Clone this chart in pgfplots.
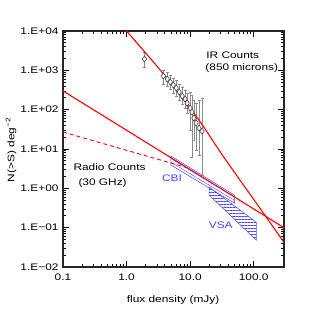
\documentclass[border=0pt]{standalone}
\usepackage{fontspec}
\setmainfont[FakeStretch=1.25]{Liberation Sans}
\usepackage{pgfplots}
\pgfplotsset{compat=1.18}
\usetikzlibrary{patterns.meta}
\definecolor{cbiblue}{RGB}{70,70,255}
\definecolor{irred}{RGB}{255,0,0}
\begin{document}
\begin{tikzpicture}[font=\fontsize{9.5}{11}\selectfont]
\begin{axis}[
  scale only axis, width=221pt, height=236pt,
  xmode=log, ymode=log,
  xmin=0.1, xmax=300, ymin=0.01, ymax=1e4,
  xtick={0.1,1,10,100}, xticklabels={0.1,1.0,10.0,100.0},
  ytick={1e-2,1e-1,1,1e1,1e2,1e3,1e4},
  yticklabels={1.E−02,1.E−01,1.E+00,1.E+01,1.E+02,1.E+03,1.E+04},
  tick align=inside,
  major tick length=6pt, minor tick length=3pt,
  tick style={black, line width=0.7pt},
  axis line style={line width=1.2pt, black!85},
  xlabel={flux density (mJy)},
  ylabel={N(>S) deg\textsuperscript{−2}},
  xlabel style={at={(axis description cs:0.498,-0.14)}, anchor=center},
  ylabel style={at={(axis description cs:-0.235,0.496)}, anchor=center, rotate=0},
  xticklabel style={yshift=-3pt},
  yticklabel style={xshift=-1pt},
  clip=true,
]
% VSA
\addplot[draw=cbiblue, line width=0.5pt, pattern={Lines[angle=0,distance=3pt,line width=0.4pt]}, pattern color=cbiblue]
  coordinates {(20,1.07) (110,0.138) (110,0.048) (20,0.67)} -- cycle;
% CBI
\addplot[draw=cbiblue, line width=0.5pt, pattern={Lines[angle=-31,distance=3pt,line width=0.4pt]}, pattern color=cbiblue]
  coordinates {(5,6.6) (50,0.67) (50,0.42) (5,3.9)} -- cycle;
% error bars and points
\addplot[only marks, mark=diamond*, mark size=3pt, mark options={fill=white, draw=black!80, line width=0.5pt},
  error bars/.cd, y dir=both, y explicit, error bar style={black!45, line width=0.5pt}, error mark options={rotate=90, mark size=1.5pt, black!45}]
  table[x=x, y=y, y error plus=ep, y error minus=em] {
x y ep em
1.91 1941 983 728
3.79 716 302 268
4.37 601 305 202
4.87 504 255 170
5.42 423 214 159
6.04 355 211 133
6.73 281 167 106
7.50 222 154 83
8.36 186 129 76
8.98 147 117 65
10.0 110 171 80
10.7 87 148 80.8
11.5 61 114 44.2
12.4 46 101 36.6
13.8 34 141 27
15.4 28.5 168 26.3
};
% IR counts model
\addplot[irred, line width=1.1pt, smooth] coordinates {
(0.9,14000) (1.0,10000) (1.33,5890) (3.93,759) (13.8,54) (33.9,6.2) (165.6,0.166) (300,0.042)};
% Radio counts solid
\addplot[irred, line width=1.1pt] coordinates {(0.1,300) (300,0.1)};
% Radio counts dashed
\addplot[irred, line width=0.9pt, dash pattern=on 4pt off 3pt] coordinates {(0.1,27) (9,3.35)};
% labels
\node at (axis cs:46.9,2450) {IR Counts};
\node at (axis cs:65,1140) {(850 microns)};
\node at (axis cs:0.54,3.46) {Radio Counts};
\node at (axis cs:0.42,1.35) {(30 GHz)};
\node[text=cbiblue] at (axis cs:5.2,1.82) {CBI};
\node[text=cbiblue] at (axis cs:30.3,0.115) {VSA};
\end{axis}
\pgfresetboundingbox
\path[use as bounding box] (-63pt,-48pt) rectangle (252pt,267pt);
\end{tikzpicture}
\end{document}
